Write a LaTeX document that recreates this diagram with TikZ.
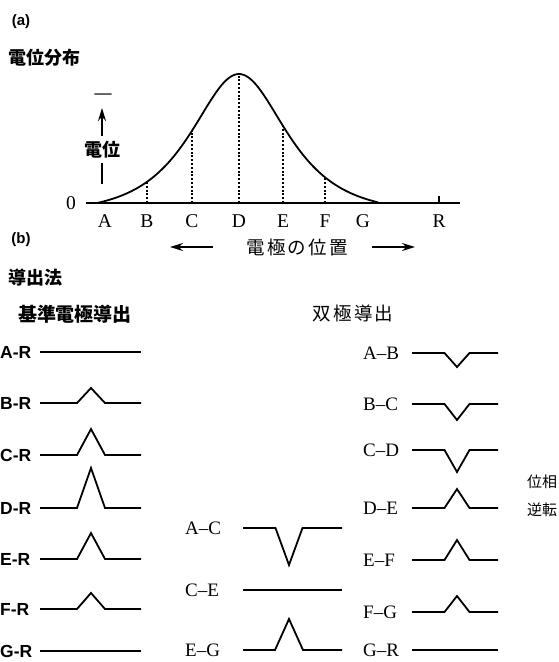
\documentclass[tikz,border=0pt]{standalone}
\usepackage{fontspec}
\setmainfont{Liberation Serif}
\newfontfamily\lsans{Liberation Sans}
\newfontfamily\jp{Noto Sans CJK JP}
\newfontfamily\jpw{Noto Sans CJK JP}[LetterSpace=12]
\usetikzlibrary{arrows.meta}

% start, apex, half width, end, row, height (negative = dip)
\newcommand{\wave}[6]{%
  \draw[trace] (#1,#5) -- (#2-#3,#5) -- (#2,{#5-(#6)}) -- (#2+#3,#5) -- (#4,#5);}

\begin{document}
\begin{tikzpicture}[x=1pt, y=-1pt,
  declare function={pot(\d)=max(0,129*(2/(exp(\d/42)+exp(-\d/42))-0.068)/0.932);},
  trace/.style={line width=1.8pt, line join=miter},
  dots/.style={line width=1.6pt, dash pattern=on 2pt off 1.8pt},
  ptr/.style={-{Stealth[length=13pt, width=8pt]}, line width=1.8pt},
  tag/.style={font=\lsans\bfseries\fontsize{15}{15}\selectfont, inner sep=0pt},
  ttl/.style={font=\jp\bfseries\fontsize{18}{18}\selectfont, inner sep=0pt},
  jpm/.style={font=\jpw\fontsize{18.5}{28}\selectfont, inner sep=0pt},
  axl/.style={font=\fontsize{19.5}{19.5}\selectfont, inner sep=0pt},
  lbl/.style={font=\lsans\bfseries\fontsize{17.5}{17.5}\selectfont, inner sep=0pt, anchor=west},
  blbl/.style={font=\fontsize{19}{19}\selectfont, inner sep=0pt, anchor=west}
]
\useasboundingbox (0,0) rectangle (559,662);

% (a) potential distribution
\node[tag] (ta) at (21,22) {(a)};
\node[ttl] (dist) at (45,58) {電位分布};
\node[axl] (zero) at (71,203) {0};
\draw[trace] (86,203) -- (460,203);
\draw[trace] (439,196) -- (439,203);
\foreach \n/\p in {A/105,B/147,C/192,D/239,E/283,F/325,G/363,R/439}
  \node[axl] (p\n) at (\p,221) {\n};
\foreach \p in {147,192,239,283,325}
  \draw[dots] (\p,203) -- (\p,{203-pot(\p-239)});
\draw[trace] plot[domain=95:378, samples=140, smooth] (\x,{203-pot(\x-239)});

% potential axis
\node[font=\bfseries\fontsize{17}{17}\selectfont, inner sep=0pt] (neg) at (103,96) {—};
\node[ttl] (volt) at (102,150) {電位};
\coordinate (vtail) at (102,136);
\coordinate (vtip) at (102,108);
\coordinate (vlow) at (102,163);
\coordinate (vbot) at (102,184);
\draw[ptr] (vtail) -- (vtip);
\draw[trace] (vlow) -- (vbot);

% electrode position
\node[jpm] (pos) at (297,247) {電極の位置};
\coordinate (la) at (213,247);
\coordinate (lb) at (170,247);
\coordinate (ra) at (372,247);
\coordinate (rb) at (415,247);
\draw[ptr] (la) -- (lb);
\draw[ptr] (ra) -- (rb);

% (b) recording methods
\node[tag] (tb) at (21,240) {(b)};
\node[ttl] (meth) at (36,278) {導出法};
\node[ttl, font=\jp\bfseries\fontsize{19}{19}\selectfont] (mono) at (75,314) {基準電極導出};
\node[jpm] (bip) at (353,313) {双極導出};

% referential
\foreach \n/\y/\h in {A/352/0,B/403/15,C/455/26,D/508/40,E/559/26,F/609/16,G/651/0}{
  \node[lbl] (r\n) at (0,\y) {\n-R};
  \wave{40}{91}{14}{141}{\y}{\h}
}

% bipolar, wide spacing
\node[blbl] (wAC) at (185,528) {A--C};
\node[blbl] (wCE) at (185,590) {C--E};
\node[blbl] (wEG) at (185,650) {E--G};
\wave{243}{289}{13.5}{342}{528}{-37}
\wave{243}{289}{13.5}{342}{590}{0}
\wave{243}{289}{14}{342}{650}{31}

% bipolar, neighbours
\foreach \a/\b/\y/\h in {A/B/353/-14,B/C/404/-16,C/D/450/-22,D/E/508/19,E/F/560/20,F/G/612/16,G/R/650/0}{
  \node[blbl] (b\a\b) at (363,\y) {\a--\b};
  \wave{412}{457}{12.5}{498}{\y}{\h}
}
\node[jpm, font=\jp\fontsize{15}{28}\selectfont, align=left] (inv) at (542,496) {位相\\逆転};
\end{tikzpicture}
\end{document}
